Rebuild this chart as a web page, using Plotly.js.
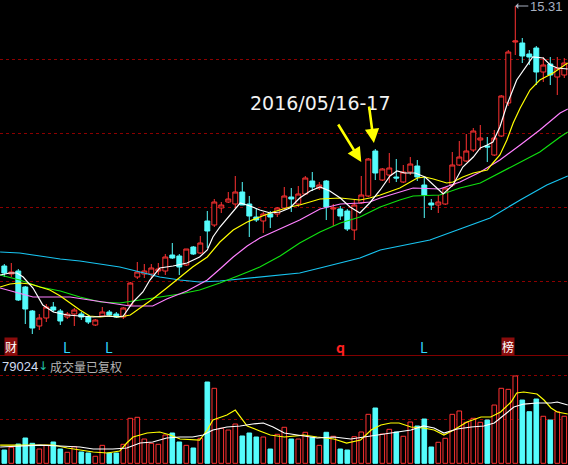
<!DOCTYPE html>
<html>
<head>
<meta charset="utf-8">
<script src="https://cdn.plot.ly/plotly-3.0.1.min.js"></script>
<style>
html,body{margin:0;padding:0;background:#000;}
#chart{width:568px;height:465px;}
</style>
</head>
<body>
<div id="chart"></div>
<script>
// ---- candle data (price) ----
const openP = [10.11, 9.95, 10.01, 9.69, 9.21, 8.91, 9.07, 9.29, 9.21, 9.09,
 9.15, 9.15, 9.09, 8.93, 9.11, 9.19, 9.15, 9.09, 9.33, 9.89,
 9.95, 9.95, 10.01, 10.01, 10.33, 10.31, 10.13, 10.49, 10.37, 11.01,
 10.93, 11.27, 11.39, 11.35, 11.59, 11.35, 11.09, 11.01, 11.15, 11.15,
 11.27, 11.49, 11.35, 11.55, 11.81, 11.67, 11.81, 11.25, 11.25, 11.21,
 10.83, 11.37, 11.51, 12.41, 11.83, 11.93, 11.89, 11.79, 11.99, 12.11,
 11.73, 11.37, 11.33, 11.35, 11.73, 12.13, 12.21, 12.43, 12.63, 12.51,
 12.33, 12.71, 13.37, 14.59, 14.57, 14.35, 14.47, 13.99, 14.15, 13.89,
 13.93];
const highP = [10.15, 10.17, 10.05, 9.71, 9.23, 9.15, 9.35, 9.39, 9.25, 9.19,
 9.27, 9.19, 9.13, 9.05, 9.29, 9.23, 9.19, 9.29, 9.79, 10.19,
 10.15, 10.15, 10.17, 10.35, 10.57, 10.35, 10.45, 10.51, 10.71, 11.21,
 11.45, 11.39, 11.59, 11.91, 11.79, 11.51, 11.25, 11.19, 11.21, 11.29,
 11.69, 11.67, 11.71, 11.91, 11.99, 11.79, 11.83, 11.35, 11.31, 11.25,
 11.45, 11.91, 12.27, 12.45, 12.07, 12.37, 12.25, 12.13, 12.29, 12.23,
 11.89, 11.45, 11.53, 11.69, 12.39, 12.61, 12.75, 12.87, 12.93, 12.69,
 12.83, 13.53, 14.43, 15.31, 14.67, 14.43, 14.51, 14.29, 14.29, 14.29,
 14.27];
const lowP = [9.89, 9.89, 9.41, 8.95, 8.75, 8.83, 8.99, 9.19, 8.93, 9.05,
 8.91, 9.03, 8.95, 8.91, 9.09, 9.09, 9.07, 9.05, 9.31, 9.85,
 9.87, 9.87, 9.93, 9.93, 10.25, 9.93, 10.11, 10.33, 10.35, 10.47,
 10.89, 11.17, 11.37, 11.27, 11.33, 10.69, 10.99, 10.77, 10.87, 11.09,
 11.23, 11.19, 11.29, 11.53, 11.61, 11.63, 11.03, 10.91, 11.03, 10.81,
 10.63, 11.35, 11.49, 11.83, 11.81, 11.77, 11.79, 11.77, 11.93, 11.81,
 11.07, 11.23, 11.17, 11.33, 11.69, 12.11, 12.19, 12.39, 12.43, 12.19,
 12.31, 12.69, 13.31, 14.33, 14.17, 14.13, 13.73, 13.79, 13.73, 13.53,
 13.87];
const closeP = [9.97, 9.99, 9.43, 9.25, 8.87, 9.07, 9.29, 9.23, 9.01, 9.15,
 9.23, 9.09, 8.99, 9.03, 9.19, 9.13, 9.09, 9.27, 9.77, 9.99,
 10.01, 10.07, 10.05, 10.29, 10.27, 10.09, 10.45, 10.35, 10.57, 10.81,
 11.39, 11.33, 11.45, 11.59, 11.33, 11.11, 11.03, 11.15, 11.09, 11.27,
 11.51, 11.45, 11.55, 11.87, 11.69, 11.73, 11.29, 11.27, 11.11, 10.85,
 11.33, 11.53, 12.25, 11.97, 12.05, 12.07, 11.87, 11.99, 12.15, 11.89,
 11.53, 11.33, 11.39, 11.67, 12.13, 12.29, 12.41, 12.81, 12.67, 12.49,
 12.67, 13.51, 14.39, 14.61, 14.31, 14.29, 13.99, 14.13, 13.93, 14.07,
 14.17];
const days = openP.map((_, i) => i);

// ---- volume (thousand) ----
const volume = [22.3, 26.9, 32.4, 42.5, 33.6, 24.0, 30.2, 35.8, 24.0, 18.5,
 27.9, 19.0, 17.3, 11.8, 30.2, 17.3, 17.3, 31.9, 75.6, 77.3,
 40.8, 33.6, 31.9, 47.5, 50.9, 35.8, 30.2, 25.7, 42.0, 136.6,
 126.0, 58.8, 55.9, 66.0, 45.9, 50.9, 44.2, 44.2, 24.0, 48.7,
 60.5, 40.8, 40.8, 52.1, 43.7, 30.2, 52.1, 45.4, 24.0, 22.3,
 44.7, 52.6, 82.3, 92.9, 49.2, 57.1, 52.6, 45.4, 69.4, 62.7,
 74.4, 27.4, 35.3, 42.0, 82.3, 87.9, 68.9, 75.6, 68.9, 72.7,
 97.9, 126.0, 124.3, 146.7, 106.3, 86.7, 108.0, 79.0, 72.7, 86.7,
 79.0];

// ---- price moving-average lines ----
const ma5X = [-0.6,0.8,1.8,2.7,4.1,5.5,7.0,9.0,10.8,12.7,14.7,16.1,17.0,18.4,19.8,20.8,22.2,24.1,26.1,27.9,29.0,29.8,30.8,32.2,33.7,35.1,36.5,38.0,39.4,40.8,42.2,43.7,45.1,46.5,48.0,49.4,50.8,52.2,53.7,55.1,56.1,57.2,58.7,60.1,61.3,62.7,64.1,65.5,67.0,68.0,69.0,69.8,70.8,71.8,73.2,74.7,75.5,77.0,78.0,79.0,80.5];
const ma5Y = [9.93,9.97,9.97,9.89,9.67,9.33,9.19,9.13,9.11,9.09,9.11,9.09,9.11,9.39,9.59,9.83,10.07,10.11,10.17,10.29,10.43,10.69,10.89,11.13,11.37,11.31,11.23,11.17,11.19,11.27,11.47,11.61,11.69,11.61,11.47,11.29,11.17,11.37,11.63,11.91,12.01,11.97,11.97,11.89,11.73,11.55,11.73,12.09,12.29,12.47,12.53,12.59,12.89,13.33,13.83,14.13,14.29,14.27,14.13,14.07,14.05];
const ma10X = [-0.6,0.8,2.2,3.7,5.1,6.5,8.0,9.4,10.8,12.2,13.7,15.1,16.5,18.0,19.4,21.2,23.2,25.1,26.9,29.0,30.8,32.7,34.7,36.5,38.4,40.8,42.2,45.1,48.0,50.8,52.2,53.7,56.5,59.0,60.1,61.3,63.2,64.1,65.5,67.0,69.0,69.8,70.8,71.8,72.7,73.7,75.1,76.5,78.4,80.5];
const ma10Y = [9.69,9.75,9.77,9.75,9.69,9.63,9.51,9.37,9.23,9.11,9.09,9.11,9.09,9.13,9.27,9.45,9.67,9.89,10.09,10.29,10.59,10.83,10.99,11.09,11.19,11.29,11.33,11.45,11.47,11.43,11.47,11.53,11.67,11.87,11.89,11.85,11.77,11.79,11.89,11.97,12.03,12.17,12.33,12.63,12.97,13.27,13.63,13.83,13.97,14.17];
const ma20X = [-0.6,2.2,4.1,6.5,9.4,12.2,15.1,18.0,21.2,23.2,26.1,29.0,30.8,32.7,34.7,36.5,38.4,39.4,42.2,45.1,48.0,50.8,52.2,53.7,56.5,58.4,62.2,65.1,68.0,70.8,73.7,76.5,79.4,80.5];
const ma20Y = [9.67,9.57,9.49,9.49,9.49,9.43,9.37,9.31,9.31,9.45,9.61,9.83,10.05,10.29,10.51,10.67,10.79,10.85,11.03,11.25,11.35,11.37,11.39,11.47,11.59,11.67,11.65,11.79,11.99,12.23,12.53,12.83,13.17,13.25];
const ma30X = [-0.6,2.2,5.1,8.0,10.8,13.7,16.5,19.4,22.2,25.1,27.9,30.8,33.7,36.5,39.4,42.2,45.1,48.0,50.8,53.7,56.5,58.4,62.2,65.1,68.0,70.8,73.7,76.5,79.4,80.5];
const ma30Y = [9.93,9.83,9.69,9.61,9.49,9.39,9.37,9.43,9.49,9.55,9.63,9.77,9.93,10.09,10.31,10.57,10.79,10.97,11.09,11.29,11.43,11.51,11.53,11.67,11.77,11.97,12.19,12.39,12.69,12.79];
const ma60X = [-0.6,2.2,5.1,8.0,10.8,13.7,16.5,19.4,22.2,25.1,27.9,30.8,33.7,36.5,39.4,42.2,45.1,48.0,50.8,53.7,56.5,60.8,65.1,69.4,73.7,77.5,80.5];
const ma60Y = [10.39,10.37,10.31,10.25,10.21,10.15,10.09,9.99,9.89,9.83,9.79,9.81,9.85,9.89,9.93,9.97,10.07,10.17,10.27,10.43,10.51,10.63,10.85,11.07,11.43,11.73,11.91];

// ---- volume moving-average lines ----
const vma5X = [-0.6,5.1,7.0,9.0,10.8,12.7,14.7,16.5,17.5,18.4,20.4,22.2,23.7,25.1,27.9,29.0,29.8,31.8,33.0,34.7,36.5,38.0,40.0,42.8,44.7,47.1,48.9,50.9,52.4,53.8,55.2,56.4,58.1,59.9,61.4,62.8,64.2,66.1,68.1,69.5,70.9,72.4,73.2,74.2,76.1,77.1,78.1,79.0,80.5];
const vma5Y = [30.7,30.7,30.7,25.7,22.3,19.0,17.3,20.7,34.1,44.2,50.9,52.6,47.5,40.8,39.1,55.9,72.7,81.1,89.5,62.7,54.3,47.5,44.2,47.5,44.2,40.8,34.1,39.1,55.9,64.3,67.7,67.7,61.0,59.3,55.9,47.5,55.9,69.4,77.8,77.8,86.2,103.0,118.1,119.8,116.4,106.3,92.9,86.2,82.8];
const vma10X = [-0.6,2.2,5.1,8.0,10.8,12.7,15.5,17.5,19.4,21.2,23.2,25.1,26.9,28.4,29.8,31.8,33.7,35.5,37.0,38.4,40.0,42.8,44.7,47.1,49.5,51.4,54.2,56.1,58.1,59.9,61.4,62.8,64.7,66.7,68.5,70.0,71.4,72.8,74.2,76.1,78.1,79.0,80.5];
const vma10Y = [27.4,29.1,30.7,29.1,27.4,24.0,24.0,25.7,34.1,35.8,42.5,44.2,44.2,47.5,55.9,61.0,62.7,66.0,67.7,61.0,50.9,45.9,42.5,44.2,40.8,44.2,49.2,52.6,55.9,62.7,59.3,50.9,57.6,61.0,62.7,67.7,81.1,94.6,99.6,101.3,101.3,103.0,97.9];

// ---- grid levels & signal marks ----
const priceGrid = [14.25, 12.77, 11.29, 9.81];
const volGrid = [146.7, 74.4];
const markIdx = [1, 9, 15, 48, 60, 72];
const markText = ['财', 'L', 'L', 'q', 'L', '榜'];

// ---- styles ----
const RED = '#ff3232';
const CYAN = '#54fcfc';
const isUp = closeP.map((c, i) => c > openP[i]);

const traces = [
  {type:'scatter', mode:'lines', x:ma60X, y:ma60Y, line:{color:'#18c4f0', width:1.2}, hoverinfo:'skip'},
  {type:'scatter', mode:'lines', x:ma30X, y:ma30Y, line:{color:'#10e010', width:1.2}, hoverinfo:'skip'},
  {type:'scatter', mode:'lines', x:ma20X, y:ma20Y, line:{color:'#ff80ff', width:1.2}, hoverinfo:'skip'},
  {type:'scatter', mode:'lines', x:ma10X, y:ma10Y, line:{color:'#ffff00', width:1.2}, hoverinfo:'skip'},
  {type:'scatter', mode:'lines', x:ma5X, y:ma5Y, line:{color:'#ffffff', width:1.2}, hoverinfo:'skip'},
  {type:'candlestick', x:days, open:openP, high:highP, low:lowP, close:closeP,
   xaxis:'x', yaxis:'y', whiskerwidth:0, hoverinfo:'skip',
   increasing:{line:{color:RED, width:1}, fillcolor:'#000000'},
   decreasing:{line:{color:CYAN, width:1}, fillcolor:CYAN}},
  {type:'bar', x:days, y:volume, xaxis:'x2', yaxis:'y2', width:0.66, hoverinfo:'skip',
   marker:{color:isUp.map(u => u ? '#000000' : CYAN),
           line:{color:isUp.map(u => u ? RED : CYAN), width:1}}},
  {type:'scatter', mode:'lines', x:vma5X, y:vma5Y, xaxis:'x2', yaxis:'y2', line:{color:'#ffff00', width:1.2}, hoverinfo:'skip'},
  {type:'scatter', mode:'lines', x:vma10X, y:vma10Y, xaxis:'x2', yaxis:'y2', line:{color:'#ffffff', width:1.2}, hoverinfo:'skip'}
];

const annotations = [];
markIdx.forEach((ix, k) => {
  const t = markText[k];
  const boxed = (t === '财' || t === '榜');
  const isQ = t === 'q';
  annotations.push({
    x: ix, xref:'x', y: 0.2538, yref:'paper', showarrow:false, text: t,
    xanchor:'center', yanchor:'middle',
    bgcolor: boxed ? '#8a0c0c' : 'rgba(0,0,0,0)', borderpad: 0,
    font:{family:'Noto Sans CJK SC, DejaVu Sans', size: boxed ? 12 : (isQ ? 14 : 14),
          color: boxed ? '#ffffff' : (isQ ? '#ff2020' : '#30d8ff'), weight: isQ ? 700 : 400}
  });
});
annotations.push(
  {x:0.565, y:0.8065, xref:'paper', yref:'paper', showarrow:false, text:'2016/05/16-17',
   font:{family:'DejaVu Sans', size:19, color:'#f2f2f2'}},
  {x:51.0, y:12.19, xref:'x', yref:'y', ax:-24, ay:-39, showarrow:true, text:'',
   arrowhead:2, arrowsize:1.1, arrowwidth:2.6, arrowcolor:'#ffff00'},
  {x:52.8, y:12.57, xref:'x', yref:'y', ax:-5, ay:-38, showarrow:true, text:'',
   arrowhead:2, arrowsize:1.1, arrowwidth:2.6, arrowcolor:'#ffff00'},
  {x:73, y:Math.max(...highP), xref:'x', yref:'y', ax:13, ay:0, showarrow:true,
   text: Math.max(...highP).toFixed(2), xanchor:'left', yanchor:'middle',
   arrowhead:1, arrowsize:1, arrowwidth:1, arrowcolor:'#a8b0c0',
   font:{family:'Liberation Sans', size:13, color:'#a8b0c0'}},
  {x:0, y:0.2129, xref:'paper', yref:'paper', xanchor:'left', yanchor:'middle', showarrow:false,
   text:'79024', font:{family:'Liberation Sans', size:13, color:'#d0dcf0'}},
  {x:36/568, y:0.2129, xref:'paper', yref:'paper', xanchor:'left', yanchor:'middle', showarrow:false,
   text:'↓', font:{family:'DejaVu Sans', size:12, color:'#20c0a8'}},
  {x:48/568, y:0.2129, xref:'paper', yref:'paper', xanchor:'left', yanchor:'middle', showarrow:false,
   text:'成交量已复权', font:{family:'Noto Sans CJK SC', size:12, color:'#b4b4b4'}}
);

const layout = {
  width:568, height:465, margin:{l:0, r:0, t:0, b:0, pad:0},
  paper_bgcolor:'#000000', plot_bgcolor:'#000000', showlegend:false,
  hovermode:false, dragmode:false,
  boxgap:0.3, boxgroupgap:0,
  xaxis:{domain:[0,1], range:[-0.614, 80.53], anchor:'y', showgrid:false, zeroline:false,
         showticklabels:false, ticks:'', showline:true, linecolor:'#800000', linewidth:1,
         rangeslider:{visible:false}},
  yaxis:{domain:[0.23656, 1], range:[8.33, 15.43], tickvals:priceGrid, showticklabels:false,
         ticks:'', gridcolor:'#8c0000', griddash:'dot', gridwidth:1, zeroline:false, showline:false},
  xaxis2:{domain:[0,1], range:[-0.614, 80.53], anchor:'y2', showgrid:false, zeroline:false,
          showticklabels:false, ticks:'', showline:false},
  yaxis2:{domain:[0, 0.23441], range:[-2.86, 180.3], tickvals:volGrid, showticklabels:false,
          ticks:'', gridcolor:'#8c0000', griddash:'dot', gridwidth:1, zeroline:false, showline:false},
  annotations: annotations
};

Plotly.newPlot('chart', traces, layout, {staticPlot:true, displayModeBar:false});
</script>
</body>
</html>
